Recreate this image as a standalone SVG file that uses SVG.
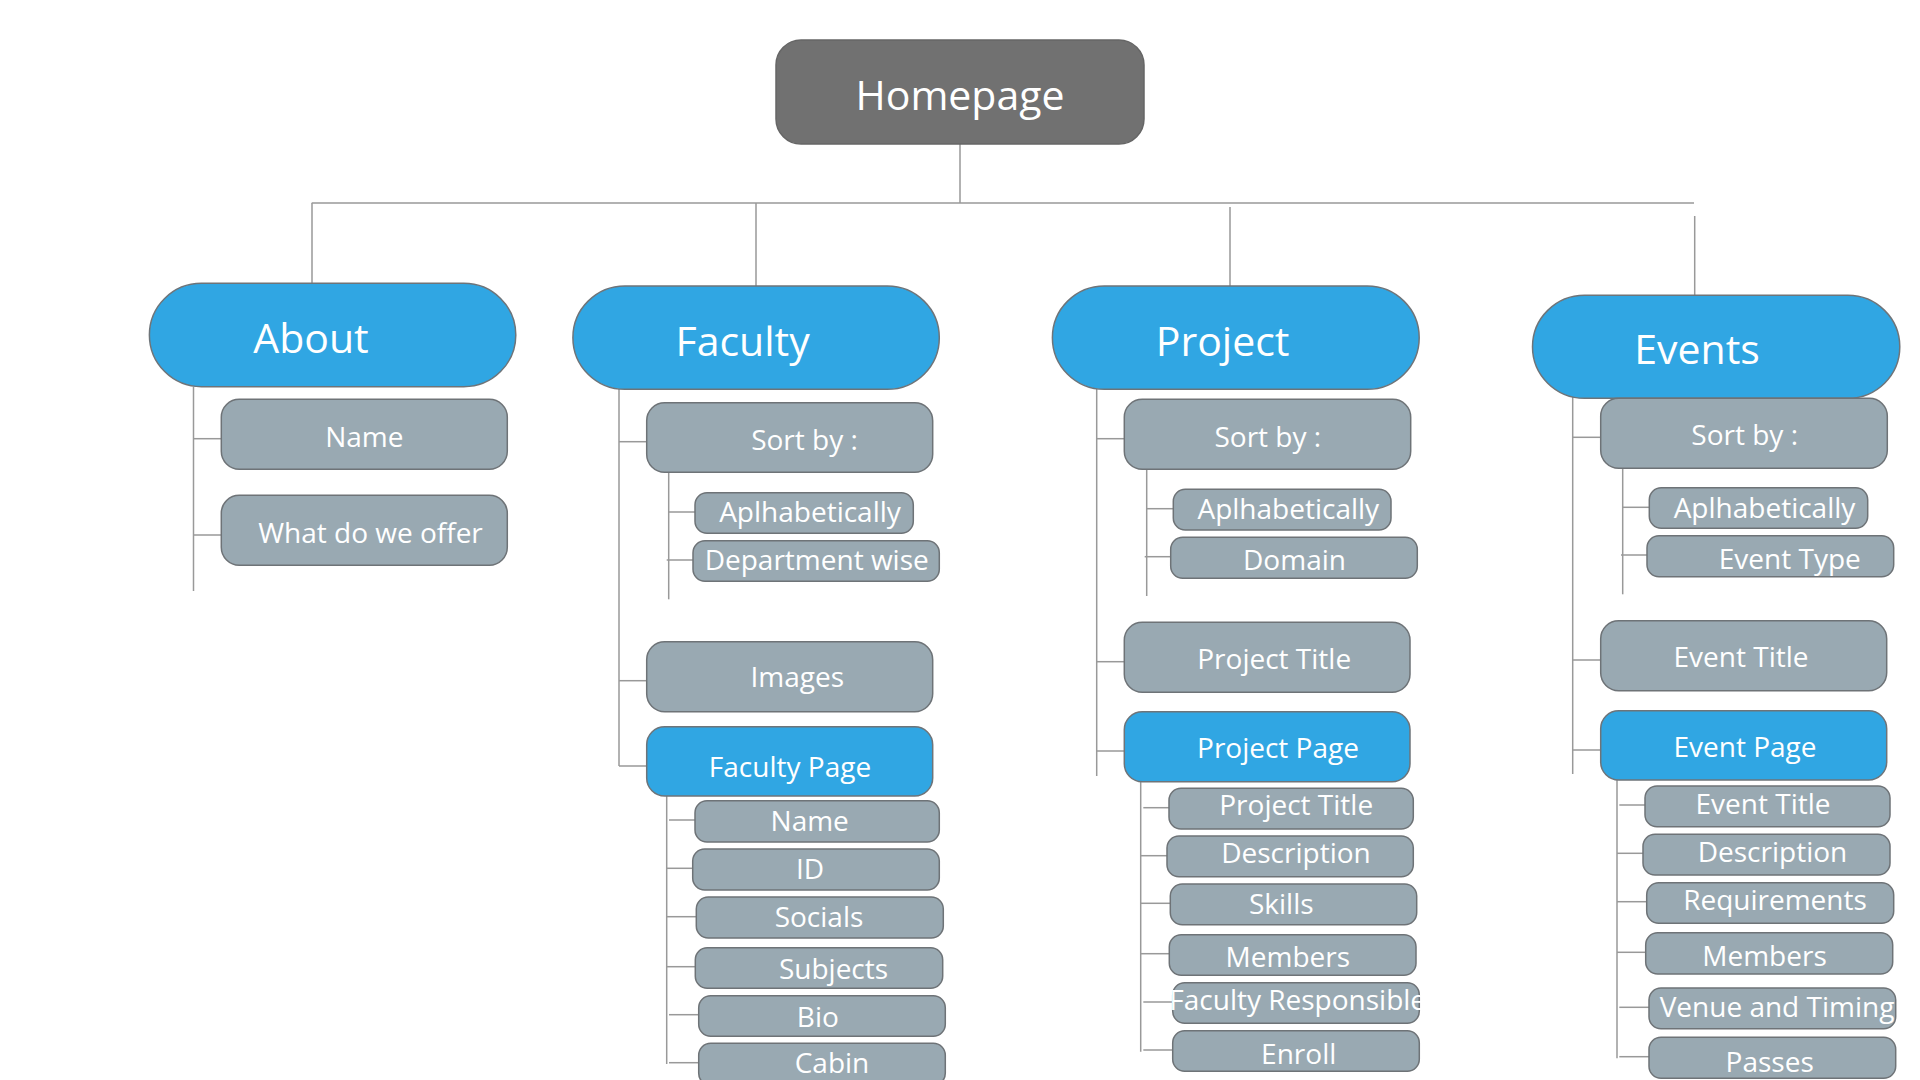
<svg xmlns="http://www.w3.org/2000/svg" width="1920" height="1080" viewBox="0 0 1920 1080">
<style>
.root{fill:#717171;stroke:#666;stroke-width:1.5}
.main{fill:#30A6E3;stroke:#6E7479;stroke-width:1.5}
.page{fill:#30A6E3;stroke:#6E7479;stroke-width:1.5}
.item{fill:#99A9B2;stroke:#6E7377;stroke-width:1.5}
.t{font-family:"Open Sans","Noto Sans","DejaVu Sans",sans-serif;fill:#fff;text-anchor:middle}
.tb{font-size:41px}
.ts{font-size:28px}
#connectors line{stroke:#999;stroke-width:1.5;fill:none}
</style>
<rect width="1920" height="1080" fill="#fff"/>
<g id="connectors">
  <line x1="960" y1="144" x2="960" y2="203"/>
  <line x1="311.7" y1="203" x2="1694" y2="203"/>
  <line x1="312" y1="203" x2="312" y2="283"/>
  <line x1="756" y1="203" x2="756" y2="286"/>
  <line x1="1230" y1="207" x2="1230" y2="286"/>
  <line x1="1694.7" y1="216" x2="1694.7" y2="295"/>
  <line x1="193.5" y1="386.7" x2="193.5" y2="591"/>
  <line x1="193.5" y1="438.7" x2="221" y2="438.7"/>
  <line x1="193.5" y1="535" x2="221" y2="535"/>
  <line x1="619" y1="389" x2="619" y2="766"/>
  <line x1="619" y1="441.7" x2="646.7" y2="441.7"/>
  <line x1="619" y1="680.7" x2="646.7" y2="680.7"/>
  <line x1="619" y1="766" x2="646.7" y2="766"/>
  <line x1="668.7" y1="472.3" x2="668.7" y2="599.3"/>
  <line x1="668.7" y1="512" x2="695" y2="512"/>
  <line x1="666.7" y1="560" x2="693" y2="560"/>
  <line x1="666.7" y1="796" x2="666.7" y2="1064"/>
  <line x1="669" y1="820" x2="695" y2="820"/>
  <line x1="666.7" y1="868.3" x2="692.7" y2="868.3"/>
  <line x1="666.7" y1="916.7" x2="696.3" y2="916.7"/>
  <line x1="666.7" y1="966.7" x2="695.3" y2="966.7"/>
  <line x1="669" y1="1014.7" x2="698.7" y2="1014.7"/>
  <line x1="669" y1="1062.7" x2="698.7" y2="1062.7"/>
  <line x1="1096.7" y1="389" x2="1096.7" y2="776"/>
  <line x1="1096.7" y1="438.7" x2="1124.3" y2="438.7"/>
  <line x1="1096.7" y1="661.7" x2="1124.3" y2="661.7"/>
  <line x1="1096.7" y1="751" x2="1124.3" y2="751"/>
  <line x1="1146.7" y1="469.3" x2="1146.7" y2="596"/>
  <line x1="1146.7" y1="508.7" x2="1173.3" y2="508.7"/>
  <line x1="1144.7" y1="556.7" x2="1170.7" y2="556.7"/>
  <line x1="1140.7" y1="781.7" x2="1140.7" y2="1051.7"/>
  <line x1="1143.3" y1="807.7" x2="1169" y2="807.7"/>
  <line x1="1140.7" y1="855.7" x2="1167" y2="855.7"/>
  <line x1="1140.7" y1="903.3" x2="1170.3" y2="903.3"/>
  <line x1="1140.7" y1="953.7" x2="1169.3" y2="953.7"/>
  <line x1="1143.3" y1="1002" x2="1172.7" y2="1002"/>
  <line x1="1143.3" y1="1050" x2="1172.7" y2="1050"/>
  <line x1="1572.7" y1="388" x2="1572.7" y2="774"/>
  <line x1="1572.7" y1="437.3" x2="1600.7" y2="437.3"/>
  <line x1="1572.7" y1="660" x2="1600.7" y2="660"/>
  <line x1="1572.7" y1="750" x2="1600.7" y2="750"/>
  <line x1="1622.7" y1="468.3" x2="1622.7" y2="594.3"/>
  <line x1="1622.7" y1="507.3" x2="1649.3" y2="507.3"/>
  <line x1="1621" y1="555" x2="1647" y2="555"/>
  <line x1="1617" y1="780" x2="1617" y2="1058.3"/>
  <line x1="1619.3" y1="805" x2="1645" y2="805"/>
  <line x1="1617" y1="853.3" x2="1643" y2="853.3"/>
  <line x1="1617" y1="901.7" x2="1646.7" y2="901.7"/>
  <line x1="1617" y1="952.3" x2="1645.7" y2="952.3"/>
  <line x1="1619.3" y1="1007.3" x2="1649" y2="1007.3"/>
  <line x1="1619.3" y1="1056.7" x2="1649" y2="1056.7"/>
</g>

<g id="homepage"><rect class="root" x="776" y="40" width="368" height="104" rx="25"/><text class="t" x="960" y="110" font-size="41">Homepage</text></g>

<g id="about"><rect class="main" x="149.4" y="283.3" width="366.4" height="103.4" rx="52" ry="51.7"/><text class="t tb" x="311" y="352.7">About</text></g>
<g id="about-name"><rect class="item" x="221.3" y="399.3" width="286" height="70" rx="18"/><text class="t ts" x="364.3" y="446.7">Name</text></g>
<g id="about-offer"><rect class="item" x="221.3" y="495.3" width="286" height="70" rx="18"/><text class="t ts" x="370.5" y="542.7">What do we offer</text></g>

<g id="faculty"><rect class="main" x="572.9" y="286" width="366.4" height="103.3" rx="52" ry="51.7"/><text class="t tb" x="742.6" y="356">Faculty</text></g>
<g id="faculty-sort"><rect class="item" x="646.7" y="402.7" width="286" height="69.6" rx="18"/><text class="t ts" x="804.5" y="450">Sort by :</text></g>
<g id="faculty-sort-alpha"><rect class="item" x="695" y="492.7" width="218.3" height="40.6" rx="12"/><text class="t ts" x="810" y="522.3">Aplhabetically</text></g>
<g id="faculty-sort-dept"><rect class="item" x="693" y="540.7" width="246.3" height="40.6" rx="12"/><text class="t ts" x="816.7" y="570">Department wise</text></g>
<g id="faculty-images"><rect class="item" x="646.7" y="641.7" width="286" height="70" rx="18"/><text class="t ts" x="797.3" y="687.3">Images</text></g>
<g id="faculty-page"><rect class="page" x="646.7" y="726.7" width="286" height="69.3" rx="18"/><text class="t ts" x="790" y="777.3">Faculty Page</text></g>
<g id="fp-name"><rect class="item" x="695" y="800.7" width="244.3" height="41.3" rx="12"/><text class="t ts" x="809.7" y="830.7">Name</text></g>
<g id="fp-id"><rect class="item" x="692.7" y="849" width="246.6" height="41" rx="12"/><text class="t ts" x="810" y="879.3">ID</text></g>
<g id="fp-socials"><rect class="item" x="696.3" y="897" width="247" height="41" rx="12"/><text class="t ts" x="819" y="927.3">Socials</text></g>
<g id="fp-subjects"><rect class="item" x="695.3" y="947.7" width="247.4" height="40.6" rx="12"/><text class="t ts" x="833.5" y="979.3">Subjects</text></g>
<g id="fp-bio"><rect class="item" x="698.7" y="995.7" width="246.6" height="40.6" rx="12"/><text class="t ts" x="817.8" y="1026.7">Bio</text></g>
<g id="fp-cabin"><rect class="item" x="698.7" y="1043.3" width="246.6" height="42" rx="12"/><text class="t ts" x="832" y="1072.7">Cabin</text></g>

<g id="project"><rect class="main" x="1052.4" y="286" width="366.8" height="103.3" rx="52" ry="51.7"/><text class="t tb" x="1222.6" y="356">Project</text></g>
<g id="project-sort"><rect class="item" x="1124.3" y="399.3" width="286.4" height="70" rx="18"/><text class="t ts" x="1267.8" y="446.7">Sort by :</text></g>
<g id="project-sort-alpha"><rect class="item" x="1173.3" y="489.3" width="217.7" height="40.7" rx="12"/><text class="t ts" x="1288.3" y="519">Aplhabetically</text></g>
<g id="project-sort-domain"><rect class="item" x="1170.7" y="537.3" width="246.6" height="41" rx="12"/><text class="t ts" x="1294.5" y="570">Domain</text></g>
<g id="project-title"><rect class="item" x="1124.3" y="622.3" width="285.7" height="70" rx="18"/><text class="t ts" x="1274.2" y="669">Project Title</text></g>
<g id="project-page"><rect class="page" x="1124.3" y="711.7" width="285.7" height="70" rx="18"/><text class="t ts" x="1278" y="758.3">Project Page</text></g>
<g id="pp-title"><rect class="item" x="1169" y="788.3" width="244.3" height="40.7" rx="12"/><text class="t ts" x="1296.2" y="815">Project Title</text></g>
<g id="pp-desc"><rect class="item" x="1167" y="836" width="246.3" height="40.7" rx="12"/><text class="t ts" x="1296" y="863.3">Description</text></g>
<g id="pp-skills"><rect class="item" x="1170.3" y="884" width="246.4" height="40.7" rx="12"/><text class="t ts" x="1281.3" y="914">Skills</text></g>
<g id="pp-members"><rect class="item" x="1169.3" y="934.7" width="246.7" height="40.6" rx="12"/><text class="t ts" x="1287.8" y="966.7">Members</text></g>
<g id="pp-faculty"><rect class="item" x="1172.7" y="982.7" width="246.6" height="40.6" rx="12"/><text class="t ts" x="1297.7" y="1010">Faculty Responsible</text></g>
<g id="pp-enroll"><rect class="item" x="1172.7" y="1030.7" width="246.6" height="40.6" rx="12"/><text class="t ts" x="1298.7" y="1064">Enroll</text></g>

<g id="events"><rect class="main" x="1532.5" y="295.3" width="367.3" height="103" rx="52" ry="51.5"/><text class="t tb" x="1697" y="364">Events</text></g>
<g id="events-sort"><rect class="item" x="1600.7" y="398.3" width="286.6" height="70" rx="18"/><text class="t ts" x="1744.7" y="445">Sort by :</text></g>
<g id="events-sort-alpha"><rect class="item" x="1649.3" y="487.7" width="218.4" height="40.6" rx="12"/><text class="t ts" x="1764.5" y="517.7">Aplhabetically</text></g>
<g id="events-sort-type"><rect class="item" x="1647" y="535.7" width="246.7" height="41" rx="12"/><text class="t ts" x="1789.8" y="569">Event Type</text></g>
<g id="events-title"><rect class="item" x="1600.7" y="620.7" width="286" height="70" rx="18"/><text class="t ts" x="1741" y="666.7">Event Title</text></g>
<g id="event-page"><rect class="page" x="1600.7" y="710.7" width="286" height="69.3" rx="18"/><text class="t ts" x="1745" y="756.7">Event Page</text></g>
<g id="ep-title"><rect class="item" x="1645" y="786" width="245" height="40.7" rx="12"/><text class="t ts" x="1763" y="814">Event Title</text></g>
<g id="ep-desc"><rect class="item" x="1643" y="834.3" width="247" height="40.7" rx="12"/><text class="t ts" x="1772.5" y="861.7">Description</text></g>
<g id="ep-req"><rect class="item" x="1646.7" y="882.7" width="247" height="40.6" rx="12"/><text class="t ts" x="1775" y="910">Requirements</text></g>
<g id="ep-members"><rect class="item" x="1645.7" y="932.7" width="247" height="41.3" rx="12"/><text class="t ts" x="1764.5" y="965.7">Members</text></g>
<g id="ep-venue"><rect class="item" x="1649" y="988" width="246.7" height="40.7" rx="12"/><text class="t ts" x="1777" y="1016.7">Venue and Timing</text></g>
<g id="ep-passes"><rect class="item" x="1649" y="1037.3" width="246.7" height="41" rx="12"/><text class="t ts" x="1769.7" y="1071.7">Passes</text></g>
</svg>
